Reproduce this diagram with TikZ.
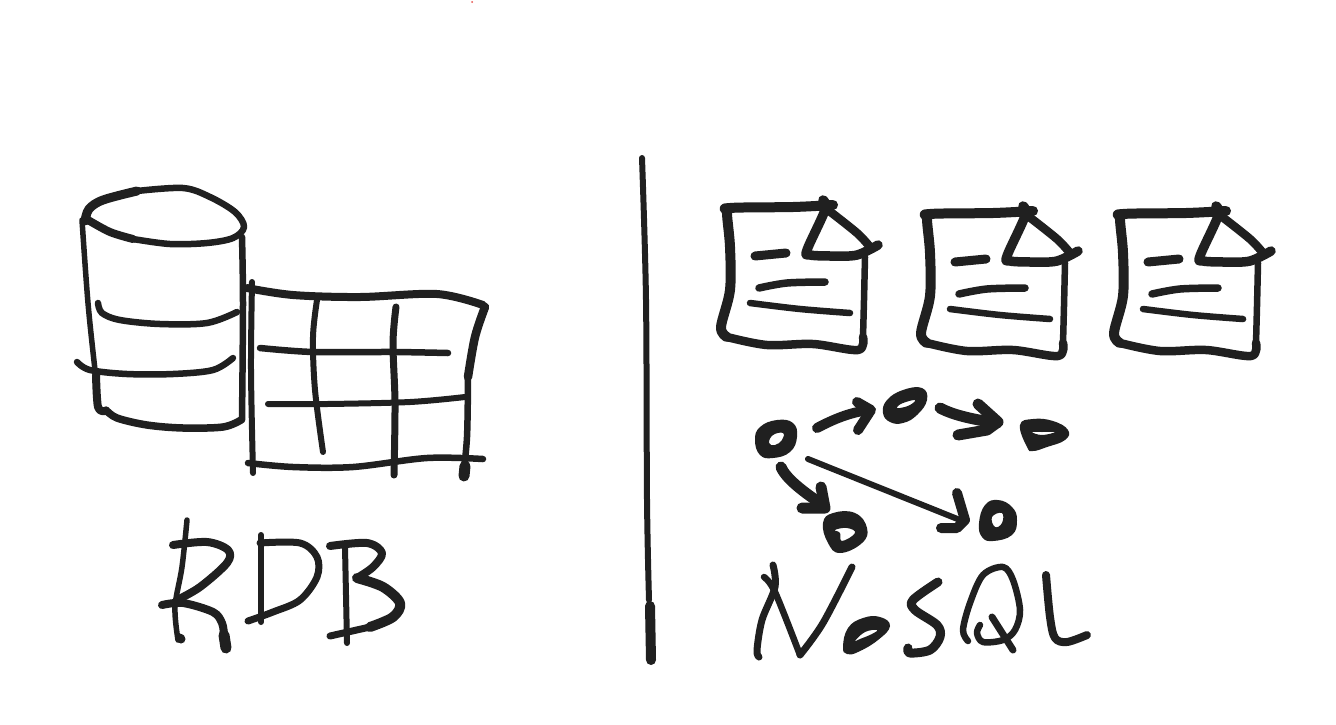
\documentclass[tikz,border=0pt]{standalone}
\usepackage{fontspec}
\setmainfont{Liberation Sans}
\definecolor{ink}{HTML}{202020}
\definecolor{speck}{HTML}{E8504A}
\tikzset{
  pen/.style={draw=ink,line cap=round,line join=round,line width=#1},
  pen/.default=6,
  blob/.style={fill=ink,even odd rule},
  sm/.style={smooth,tension=0.55},
  loopy/.style={smooth cycle,tension=0.75},
  ghost/.style={text opacity=0,font=\fontsize{60}{60}\selectfont}
}
\newcommand{\strk}[2]{\draw[pen=#1] plot[sm] coordinates {#2};}
\begin{document}
\begin{tikzpicture}[x=1pt,y=-1pt]
\useasboundingbox (0,0) rectangle (1336,724);
\fill[white] (0,0) rectangle (1336,724);
\fill[speck] (472,2) circle (1);

% cylinder
\strk{9}{(85,221)(89,209)(103,200)(137,191)}
\strk{6.5}{(137,191)(183,188)(210,197)(235,212)(244,227)(233,238)(207,243)(170,244)(133,239)}
\strk{8}{(133,239)(110,232)(88,220)}
\strk{5.5}{(82,220)(88,303)(95,370)(97,385)}
\strk{8}{(96,375)(98,407)(105,411)}
\strk{7.5}{(106,410)(117,418)(147,425)(183,428)(223,427)(241,420)}
\strk{6.5}{(242,237)(243,303)(242,420)}
\strk{6.5}{(98,303)(102,313)(120,320)(160,324)(207,323)(237,312)}
\strk{6.5}{(77,362)(90,370)(127,374)(173,374)(213,370)(233,358)}

% table
\strk{6}{(252,282)(251,370)(253,473)}
\strk{8}{(247,288)(293,295)(360,297)(437,294)(483,305)}
\strk{6.5}{(468,377)(467,437)(463,477)}
\strk{8.5}{(485,307)(475,337)(468,377)}
\strk{11}{(465,466)(464,476)}
\strk{6.5}{(248,463)(293,467)(353,467)(427,458)(483,459)}
\strk{6}{(317,300)(313,337)(315,390)(323,452)}
\strk{7}{(396,307)(393,343)(395,403)(394,475)}
\strk{6.5}{(260,348)(313,352)(393,352)(448,353)}
\strk{6}{(268,404)(327,404)(410,402)(465,397)}

% RDB, drawn by hand; the text layer keeps the words
\node[ghost] (rdblabel) at (282,590) {RDB};
\strk{5.5}{(187,520)(182,567)(175,607)(178,640)}
\strk{9}{(180,638)(181,639)}
\strk{8}{(173,545)(207,542)(228,550)(227,563)(200,587)(177,600)}
\strk{8}{(162,605)(183,603)(213,612)(222,623)(224,635)}
\strk{11}{(224,635)(226,648)}
\strk{6}{(261,535)(261,622)}
\strk{7}{(260,543)(300,543)(317,557)(317,577)(300,600)(273,612)(248,621)}
\strk{6}{(345,547)(347,643)}
\strk{8}{(330,546)(367,543)(382,553)(373,567)(357,578)}
\strk{10}{(357,578)(383,587)(400,603)(393,617)(370,627)}
\strk{7}{(370,627)(330,636)}

% divider
\strk{6}{(642,158)(646,300)(647,500)(649,600)}
\strk{10}{(650,606)(651,660)}

% documents
\foreach \dx/\dy in {0/0,200/6,393/6}{
\begin{scope}[shift={(\dx,\dy)}]
\strk{10}{(833,205)(793,207)(730,208)(727,213)(730,247)(730,290)(721,327)(727,337)}
\strk{8.5}{(727,337)(767,345)(813,344)(858,350)(863,337)}
\strk{6.5}{(863,337)(864,300)(865,257)}
\strk{9.5}{(823,200)(825,210)(807,250)(810,255)(833,256)(857,255)(878,245)}
\strk{8.5}{(828,210)(857,233)(870,247)}
\strk{9}{(755,256)(786,253)}
\strk{7.5}{(759,288)(787,283)(825,282)}
\strk{6.5}{(750,303)(800,309)(850,313)}
\end{scope}}

% graph nodes
\coordinate (na) at (776,439);
\coordinate (nb) at (905,405);
\coordinate (nc) at (1044,435);
\coordinate (nd) at (845,532);
\coordinate (ne) at (998,520);
\path[blob] plot[loopy] coordinates {(755,440)(760,427)(777,420)(793,423)(797,437)(790,452)(773,458)(760,455)}
  plot[loopy] coordinates {(769,443)(773,435)(783,433)(782,440)(775,445)};
\path[blob] plot[loopy] coordinates {(883,413)(887,400)(903,390)(922,388)(927,400)(917,415)(903,423)(890,422)}
  plot[loopy] coordinates {(897,407)(903,403)(915,400)(910,405)(900,408)};
\path[blob] plot[loopy] coordinates {(1020,425)(1033,419)(1053,421)(1068,430)(1065,440)(1047,447)(1033,451)(1027,447)}
  plot[loopy] coordinates {(1032,432)(1042,432)(1055,432)(1042,435)};
\path[blob] plot[loopy] coordinates {(823,523)(833,513)(855,513)(867,528)(862,543)(840,553)(828,543)}
  plot[loopy] coordinates {(835,530)(847,528)(855,533)(842,541)(840,533)};
\path[blob] plot[loopy] coordinates {(979,523)(985,505)(998,500)(1012,507)(1017,520)(1012,535)(993,541)(982,537)}
  plot[loopy] coordinates {(992,517)(1002,513)(1002,523)(995,527)};

% arrows between graph nodes
\draw[pen=10] ([shift={(41,-11)}]na) .. controls +(15,-8) and +(-20,2) .. ([shift={(-35,5)}]nb);
\draw[pen=10] ([shift={(-48,-3)}]nb) -- ([shift={(-34,5)}]nb) -- ([shift={(-47,25)}]nb);
\draw[pen=11] ([shift={(35,3)}]nb) .. controls +(15,8) and +(-20,-3) .. ([shift={(-47,-12)}]nc);
\draw[pen=11] ([shift={(-66,-31)}]nc) -- ([shift={(-46,-13)}]nc) -- ([shift={(-57,-5)}]nc) -- ([shift={(-86,0)}]nc);
\draw[pen=11] ([shift={(5,28)}]na) .. controls +(5,12) and +(-18,-12) .. ([shift={(-22,-27)}]nd);
\draw[pen=11] ([shift={(-24,-45)}]nd) -- ([shift={(-20,-24)}]nd) -- ([shift={(-43,-24)}]nd);
\draw[pen=6] ([shift={(32,20)}]na) -- ([shift={(-38,0)}]ne);
\draw[pen=10] ([shift={(-41,-27)}]ne) -- ([shift={(-33,0)}]ne) -- ([shift={(-41,8)}]ne) -- ([shift={(-57,8)}]ne);

% NoSQL, drawn by hand; the text layer keeps the words
\node[ghost] (nosqllabel) at (922,610) {NoSQL};
\strk{7}{(773,565)(775,587)(762,620)(757,650)(759,657)}
\strk{6.5}{(764,577)(775,592)(800,655)}
\strk{7}{(800,655)(823,623)(852,567)}
\path[blob] plot[loopy] coordinates {(843,647)(848,628)(863,618)(880,617)(890,626)(878,640)(858,652)(847,654)}
  plot[loopy] coordinates {(855,641)(865,632)(877,630)(872,634)(860,639)};
\strk{9}{(938,582)(913,600)(915,610)(937,625)(940,637)(930,650)(910,653)(908,648)}
\strk{6.5}{(968,641)(963,630)(970,603)(983,575)(1003,567)(1013,580)(1020,610)(1015,630)(1003,640)(983,642)(977,633)(980,625)}
\strk{7}{(992,617)(1013,650)}
\strk{8}{(1046,575)(1050,617)(1055,638)(1067,642)(1087,635)}
\end{tikzpicture}
\end{document}
